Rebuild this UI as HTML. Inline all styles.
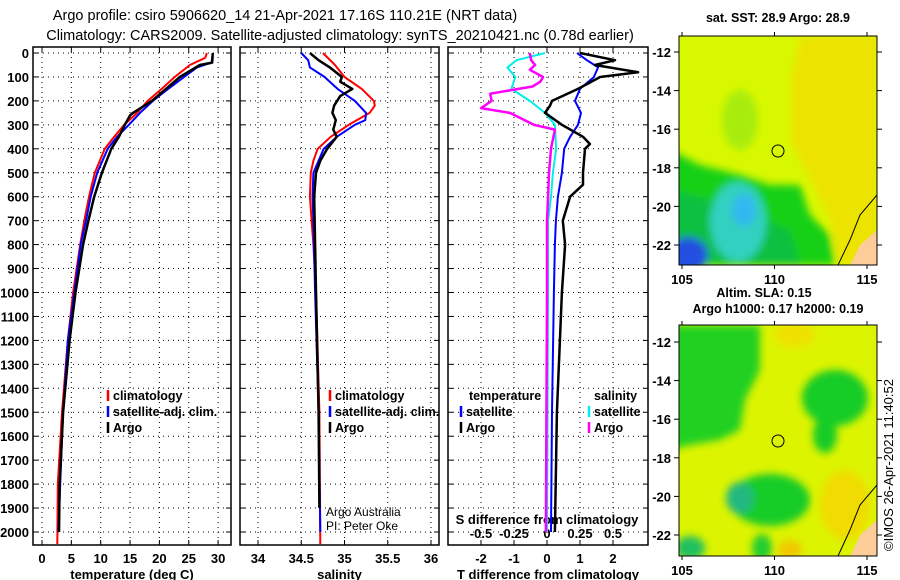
<!DOCTYPE html>
<html><head><meta charset="utf-8"><style>
html,body{margin:0;padding:0;background:#fff;}
svg{display:block;font-family:"Liberation Sans",sans-serif;}
.tk{font-weight:bold;font-size:13px;}
.lg{font-weight:bold;font-size:12.5px;}
.grid{stroke:#000;stroke-width:1;stroke-dasharray:1 4;}
</style></head><body>
<svg id="chart" width="900" height="580" viewBox="0 0 900 580">
<defs>
<filter id="blur" x="-20%" y="-20%" width="140%" height="140%"><feGaussianBlur stdDeviation="4"/></filter>
<clipPath id="clipTop"><rect x="679" y="36" width="198" height="229"/></clipPath>
<clipPath id="clipBot"><rect x="679" y="325" width="198" height="231"/></clipPath>
</defs>
<text x="285" y="20" font-size="14.5" text-anchor="middle">Argo profile: csiro 5906620_14 21-Apr-2021 17.16S 110.21E (NRT data)</text>
<text x="340" y="40" font-size="14.5" text-anchor="middle">Climatology: CARS2009. Satellite-adjusted climatology: synTS_20210421.nc (0.78d earlier)</text>

<!-- Maps -->
<g clip-path="url(#clipTop)">
<rect x="679" y="36" width="198" height="229" fill="#d8f800"/>
<g filter="url(#blur)">
<path d="M800,36 L877,36 L877,265 L840,265 L830,220 L810,180 L790,140 L790,80 Z" fill="#ece400"/>
<path d="M670,150 L700,165 L740,175 L770,185 L800,185 L810,215 L830,235 L835,265 L670,265 Z" fill="#18d018"/>
<path d="M670,190 L710,200 L750,215 L790,230 L800,265 L670,265 Z" fill="#10c040"/>
<ellipse cx="738" cy="222" rx="28" ry="40" fill="#30d0c0"/>
<ellipse cx="744" cy="210" rx="12" ry="16" fill="#30b8f0"/>
<ellipse cx="688" cy="255" rx="20" ry="18" fill="#2050e0"/>
<ellipse cx="740" cy="120" rx="18" ry="30" fill="#a8ec10"/>
</g>
<path d="M877,230 L860,245 L850,265 L877,265 Z" fill="#fccc99"/>
<path d="M877,195 L860,215 L850,240 L838,265" fill="none" stroke="#000" stroke-width="1"/>
</g>
<rect x="679" y="36" width="198" height="229" fill="none" stroke="#000"/>
<circle cx="778" cy="151" r="6" fill="none" stroke="#000"/>
<text x="778" y="22" class="lg" text-anchor="middle">sat. SST: 28.9 Argo: 28.9</text>

<g clip-path="url(#clipBot)">
<rect x="679" y="325" width="198" height="231" fill="#dcf400"/>
<g filter="url(#blur)">
<path d="M670,325 L760,325 L760,370 L745,400 L740,430 L720,440 L690,445 L670,450 Z" fill="#20d020"/>
<ellipse cx="835" cy="398" rx="33" ry="28" fill="#18cc28"/>
<ellipse cx="825" cy="435" rx="12" ry="18" fill="#18cc28"/>
<ellipse cx="770" cy="500" rx="40" ry="26" fill="#18cc28"/>
<ellipse cx="740" cy="498" rx="14" ry="16" fill="#20b880"/>
<ellipse cx="795" cy="335" rx="20" ry="12" fill="#f0e000"/>
<ellipse cx="845" cy="505" rx="25" ry="35" fill="#f0dc00"/>
<ellipse cx="790" cy="550" rx="12" ry="10" fill="#f0c800"/>
<ellipse cx="762" cy="548" rx="10" ry="14" fill="#20cc30"/>
<ellipse cx="690" cy="548" rx="15" ry="12" fill="#20c060"/>
</g>
<path d="M877,520 L860,535 L850,556 L877,556 Z" fill="#fccc99"/>
<path d="M877,485 L860,505 L850,530 L838,556" fill="none" stroke="#000" stroke-width="1"/>
</g>
<rect x="679" y="325" width="198" height="231" fill="none" stroke="#000"/>
<circle cx="778" cy="441" r="6" fill="none" stroke="#000"/>
<text x="764" y="297" class="lg" text-anchor="middle">Altim. SLA: 0.15</text>
<text x="778" y="313" class="lg" text-anchor="middle">Argo h1000: 0.17 h2000: 0.19</text>
<text transform="translate(893,465) rotate(-90)" font-size="13" text-anchor="middle">©IMOS 26-Apr-2021 11:40:52</text>

<g id="plots"></g>
</svg>
<script>
// ===== data =====
const depthTicks=[0,100,200,300,400,500,600,700,800,900,1000,1100,1200,1300,1400,1500,1600,1700,1800,1900,2000];
const tempTicks=[0,5,10,15,20,25,30];
const salTicks=[34,34.5,35,35.5,36];
const tdiffTicks=[-2,-1,0,1,2];
const sdiffTicks=[-0.5,-0.25,0,0.25,0.5];
const sdiffLabels=["-0.5","-0.25","0","0.25","0.5"];
const tempClimDepth=[0,20,50,100,150,200,250,300,350,400,500,600,700,800,1000,1200,1500,1800,2050];
const tempClim=[28.1,27.8,25.2,22.6,20.4,18.0,16.2,14.0,12.3,10.7,9.0,8.0,7.2,6.5,5.3,4.4,3.4,2.7,2.6];
const tempSatDepth=[0,40,60,100,150,200,250,300,350,400,500,600,700,800,1000,1200,1500,1800,2000];
const tempSat=[29.1,28.9,26.4,24.2,21.5,18.9,16.7,14.8,12.8,11.2,9.4,8.3,7.5,6.6,5.5,4.4,3.6,3.1,2.8];
const tempArgoDepth=[0,40,50,100,150,200,250,260,300,350,400,500,600,700,800,1000,1200,1500,1800,2000];
const tempArgo=[29.1,29.0,26.9,23.5,21.1,18.7,15.5,15.0,14.1,13.1,11.8,10.2,8.9,7.9,7.0,5.7,4.7,3.6,3.0,2.9];
const salClimDepth=[0,50,100,150,200,220,250,300,350,400,450,500,600,700,800,1000,1500,2050];
const salClim=[34.75,34.89,35.0,35.2,35.34,35.35,35.29,35.05,34.84,34.69,34.64,34.61,34.6,34.62,34.64,34.67,34.71,34.72];
const salSatDepth=[0,30,60,100,150,200,250,280,300,350,400,500,600,700,1000,1500,2000];
const salSat=[34.5,34.58,34.6,34.77,34.92,35.12,35.25,35.24,35.12,34.91,34.76,34.64,34.63,34.64,34.66,34.7,34.72];
const salArgoDepth=[0,30,60,100,120,150,180,220,250,280,320,350,400,450,500,600,800,1000,1500,1900];
const salArgo=[34.6,34.7,34.83,34.97,34.95,35.09,34.95,34.88,34.86,34.9,34.87,34.91,34.8,34.72,34.67,34.65,34.66,34.67,34.7,34.71];
const tdSatDepth=[0,30,60,100,150,200,250,300,350,400,500,600,700,800,1000,1500,2000];
const tdSat=[0.91,1.21,1.55,1.42,1.0,0.85,1.03,0.94,0.7,0.52,0.45,0.33,0.27,0.24,0.21,0.15,0.12];
const tdArgoDepth=[0,30,50,80,100,150,200,220,250,300,350,380,400,500,550,600,700,800,1000,1200,1500,2000];
const tdArgo=[1.0,2.06,1.45,2.76,1.61,0.94,0.15,0.09,-0.06,0.45,1.09,1.3,1.15,1.09,1.09,0.7,0.48,0.55,0.45,0.39,0.3,0.24];
const sdSatDepth=[0,30,60,100,150,200,250,300,400,500,600,700,1000,2000];
const sdSat=[-0.015,-0.23,-0.30,-0.24,-0.27,-0.13,-0.015,0.06,0.07,0.045,0.03,0.008,0.008,0.0];
const sdArgoDepth=[0,30,50,70,100,120,140,170,200,230,250,300,320,400,500,600,700,1000,2000];
const sdArgo=[-0.13,-0.12,-0.09,-0.13,-0.03,-0.05,-0.11,-0.43,-0.42,-0.5,-0.28,-0.1,0.06,0.03,0.015,0.008,0,0,-0.008];
const latTicks=[-12,-14,-16,-18,-20,-22];
const lonTicks=[105,110,115];

// ===== drawing =====
const NS="http://www.w3.org/2000/svg";
const root=document.getElementById('plots');
function mk(tag,attrs,parent){const e=document.createElementNS(NS,tag);for(const k in attrs)e.setAttribute(k,attrs[k]);(parent||root).appendChild(e);return e;}
const top0=53, yScale=(532-53)/2000;
const yD=d=>top0+d*yScale;
const PB=545, PT=47;
const xT=v=>42+v*5.87;
const xS=v=>258+(v-34)*86.5;
const xTD=v=>547+v*33;
const xSD=v=>547+v*132;

function panel(name,x0,x1,xs,xticks,xlabels,title,leftLabels){
  const g=mk('g',{});
  
  
  depthTicks.forEach(d=>{
    const gl=mk('line',{x1:x0,x2:x1,y1:yD(d),y2:yD(d),class:'grid'},g);
    
    
    mk('line',{x1:x0,x2:x0+5,y1:yD(d),y2:yD(d),stroke:'#000'},g);
    mk('line',{x1:x1-5,x2:x1,y1:yD(d),y2:yD(d),stroke:'#000'},g);
    if(leftLabels){
      const t=mk('text',{x:x0-4,y:yD(d)+5,class:'tk','text-anchor':'end'},g);
      t.textContent=String(d);
      
      
    }
  });
  xticks.forEach((v,i)=>{
    const gl=mk('line',{x1:xs(v),x2:xs(v),y1:PT,y2:PB,class:'grid'},g);
    
    
    mk('line',{x1:xs(v),x2:xs(v),y1:PB-5,y2:PB,stroke:'#000'},g);
    mk('line',{x1:xs(v),x2:xs(v),y1:PT,y2:PT+5,stroke:'#000'},g);
    const t=mk('text',{x:xs(v),y:563,class:'tk','text-anchor':'middle'},g);
    t.textContent=xlabels[i];
    
    
  });
  const fr=mk('rect',{x:x0,y:PT,width:x1-x0,height:PB-PT,fill:'none',stroke:'#000','stroke-width':1.5},g);
  
  
  const at=mk('text',{x:(x0+x1)/2,y:579,class:'tk','text-anchor':'middle'},g);
  at.textContent=title;
  
  
  return g;
}
function line(name,depths,vals,xs,color,w){
  const p=mk('polyline',{points:depths.map((d,i)=>xs(vals[i]).toFixed(1)+','+yD(d).toFixed(1)).join(' '),fill:'none',stroke:color,'stroke-width':w,'stroke-linejoin':'round'});
  
  
}
function legend(name,x,y,color,label){
  const g=mk('g',{});
  
  
  mk('line',{x1:x,x2:x,y1:y-10,y2:y+1,stroke:color,'stroke-width':2.5},g);
  const t=mk('text',{x:x+5,y:y,class:'lg'},g);
  t.textContent=label;
}

panel('temperature-panel',33,231,xT,tempTicks,tempTicks.map(String),'temperature (deg C)',true);
panel('salinity-panel',240,439,xS,salTicks,salTicks.map(String),'salinity',false);
panel('difference-panel',448,648,xTD,tdiffTicks,tdiffTicks.map(String),'T difference from climatology',false);

sdiffTicks.forEach((v,i)=>{
  const t=mk('text',{x:xSD(v),y:538,class:'tk','text-anchor':'middle'});
  t.textContent=sdiffLabels[i];
  
  
});
const sdt=mk('text',{x:547,y:524,class:'tk','text-anchor':'middle'});
sdt.textContent='S difference from climatology';



line('temp-climatology-line',tempClimDepth,tempClim,xT,'#f00',2);
line('temp-satellite-line',tempSatDepth,tempSat,xT,'#00f',2);
line('temp-argo-line',tempArgoDepth,tempArgo,xT,'#000',2.5);
line('sal-climatology-line',salClimDepth,salClim,xS,'#f00',2);
line('sal-satellite-line',salSatDepth,salSat,xS,'#00f',2);
line('sal-argo-line',salArgoDepth,salArgo,xS,'#000',2.5);
line('sdiff-satellite-line',sdSatDepth,sdSat,xSD,'#0ee',2);
line('sdiff-argo-line',sdArgoDepth,sdArgo,xSD,'#f0f',2.5);
line('tdiff-satellite-line',tdSatDepth,tdSat,xTD,'#00f',2);
line('tdiff-argo-line',tdArgoDepth,tdArgo,xTD,'#000',2.5);

legend('legend-climatology',108,400,'#f00','climatology');
legend('legend-satellite',108,416,'#00f','satellite-adj. clim.');
legend('legend-argo',108,432,'#000','Argo');
legend('legend-sal-climatology',330,400,'#f00','climatology');
legend('legend-sal-satellite',330,416,'#00f','satellite-adj. clim.');
legend('legend-sal-argo',330,432,'#000','Argo');
const lt=mk('text',{x:469,y:400,class:'lg'});lt.textContent='temperature';


legend('legend-tdiff-satellite',461,416,'#00f','satellite');
legend('legend-tdiff-argo',461,432,'#000','Argo');
const ls=mk('text',{x:594,y:400,class:'lg'});ls.textContent='salinity';


legend('legend-sdiff-satellite',589,416,'#0ee','satellite');
legend('legend-sdiff-argo',589,432,'#f0f','Argo');

const c1=mk('text',{x:326,y:516,'font-size':12});c1.textContent='Argo Australia';


const c2=mk('text',{x:326,y:530,'font-size':12});c2.textContent='PI: Peter Oke';



const lonX=v=>682+(v-105)*18.5;
[[36,265,52],[325,556,342]].forEach(([t0,b0,y12],mi)=>{
  latTicks.forEach(v=>{
    const y=y12+(-12-v)*19.3;
    mk('line',{x1:674,x2:679,y1:y,y2:y,stroke:'#000'});
    mk('line',{x1:877,x2:882,y1:y,y2:y,stroke:'#000'});
    const t=mk('text',{x:671,y:y+5,class:'tk','text-anchor':'end'});
    t.textContent=String(v);
    
    
  });
  lonTicks.forEach(v=>{
    mk('line',{x1:lonX(v),x2:lonX(v),y1:t0-4,y2:t0,stroke:'#000'});
    mk('line',{x1:lonX(v),x2:lonX(v),y1:b0,y2:b0+4,stroke:'#000'});
    const t=mk('text',{x:lonX(v),y:b0+19,class:'tk','text-anchor':'middle'});
    t.textContent=String(v);
    
    
  });
});
</script>
</body></html>
